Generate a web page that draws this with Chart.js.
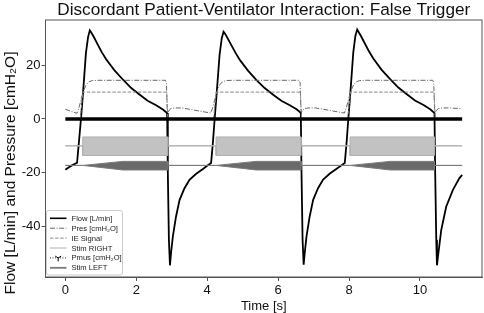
<!DOCTYPE html>
<html>
<head>
<meta charset="utf-8">
<script src="https://cdn.jsdelivr.net/npm/chart.js@4/dist/chart.umd.min.js"></script>
<style>
  html, body { margin: 0; padding: 0; background: #fff; }
  #wrap { width: 484px; height: 313px; position: relative; }
</style>
</head>
<body>
<div id="wrap"><canvas id="vent"></canvas></div>
<script>
const FONT = '"Liberation Sans", Arial, sans-serif';

const xTicks = [0, 2, 4, 6, 8, 10];
const yTicks = [-40, -20, 0, 20];

// Flow [L/min]
const flowT = [0.00, 0.10, 0.20, 0.33, 0.38, 0.44, 0.50, 0.58, 0.64, 0.69, 0.73, 0.80, 0.91, 1.03, 1.15, 1.38, 1.62, 1.85, 2.09, 2.32, 2.56, 2.75, 2.87,
  2.89, 2.92, 2.95, 2.98, 3.03, 3.12, 3.22, 3.36, 3.50, 3.69, 3.87, 4.01, 4.11, 4.16, 4.21,
  4.27, 4.35, 4.41, 4.46, 4.50, 4.57, 4.68, 4.80, 4.92, 5.15, 5.39, 5.62, 5.86, 6.09, 6.33, 6.52, 6.64,
  6.66, 6.69, 6.72, 6.75, 6.80, 6.89, 6.99, 7.13, 7.27, 7.46, 7.64, 7.78, 7.88, 7.93, 7.98,
  8.04, 8.12, 8.18, 8.23, 8.27, 8.34, 8.45, 8.57, 8.69, 8.92, 9.16, 9.39, 9.63, 9.86, 10.10, 10.29, 10.41,
  10.43, 10.46, 10.48, 10.52, 10.60, 10.74, 10.93, 11.11, 11.19];
const flowV = [-18.9, -18.0, -17.2, -16.3, -9.0, 0.0, 10.0, 24.5, 30.5, 33.0, 32.2, 30.6, 27.8, 24.8, 22.2, 18.2, 14.7, 11.6, 9.1, 6.8, 5.1, 3.5, 2.2,
  -20.0, -45.0, -54.5, -50.0, -43.9, -36.4, -30.2, -25.8, -22.7, -20.4, -18.7, -17.3, -16.4, -9.0, 0.0,
  10.0, 24.0, 30.0, 32.5, 31.8, 30.2, 27.5, 24.6, 22.0, 18.0, 14.5, 11.5, 9.0, 6.8, 5.1, 3.6, 2.3,
  -20.0, -45.0, -54.3, -50.0, -43.8, -36.3, -30.0, -25.7, -22.6, -20.3, -18.6, -17.3, -16.4, -9.0, 0.0,
  10.2, 24.8, 31.0, 33.3, 32.4, 30.8, 28.0, 25.0, 22.4, 18.3, 14.8, 11.7, 9.2, 6.9, 5.2, 3.6, 2.2,
  -20.0, -45.0, -54.5, -50.0, -41.4, -32.7, -26.4, -22.1, -20.8];

// Pres [cmH2O]
const presT = [0.00, 0.15, 0.33, 0.38, 0.43, 0.48, 0.53, 0.59, 0.66, 0.76, 0.95, 2.82, 2.85, 2.87, 2.89, 2.93, 2.98, 3.10, 3.29,
  4.10, 4.15, 4.20, 4.25, 4.30, 4.36, 4.43, 4.53, 4.72, 6.59, 6.62, 6.64, 6.66, 6.70, 6.75, 6.87, 7.06,
  7.87, 7.92, 7.97, 8.02, 8.07, 8.13, 8.20, 8.30, 8.49, 10.36, 10.39, 10.41, 10.43, 10.47, 10.52, 10.64, 10.83, 11.19];
const presV = [3.6, 2.9, 2.1, 4.0, 6.5, 9.0, 11.0, 12.8, 13.8, 14.3, 14.4, 14.4, 13.5, 4.0, 2.4, 3.3, 3.9, 4.1, 4.1,
  2.2, 4.0, 6.5, 9.0, 11.0, 12.8, 13.8, 14.3, 14.4, 14.4, 13.5, 4.0, 2.4, 3.3, 3.9, 4.1, 4.1,
  2.2, 4.0, 6.5, 9.0, 11.0, 12.8, 13.8, 14.3, 14.4, 14.4, 13.5, 4.0, 2.4, 3.3, 3.9, 4.1, 4.1, 3.8];

// IE Signal
const ieT = [0.00, 0.42, 0.49, 2.86, 2.89, 4.18, 4.25, 6.63, 6.66, 7.96, 8.04, 10.40, 10.43, 11.19];
const ieV = [0, 0, 10, 10, 0, 0, 10, 10, 0, 0, 10, 10, 0, 0];

// Stim RIGHT (envelope of the stimulation burst)
const stimRT = [0.00, 0.49, 0.49, 2.89, 2.89, 4.25, 4.25, 6.65, 6.65, 8.03, 8.03, 10.41, 10.41, 11.19];
const stimRHigh = [-10, -10, -6.7, -6.7, -10, -10, -6.7, -6.7, -10, -10, -6.7, -6.7, -10, -10];
const stimRLow = [-10, -10, -13.6, -13.6, -10, -10, -13.6, -13.6, -10, -10, -13.6, -13.6, -10, -10];

// Pmus [cmH2O]
const pmusT = [0.00, 11.19];
const pmusV = [0, 0];

// Stim LEFT (ramped burst envelope)
const stimLT = [0.00, 0.49, 1.62, 2.89, 2.89, 4.25, 5.38, 6.65, 6.65, 8.03, 9.16, 10.41, 10.41, 11.19];
const stimLHigh = [-17.3, -17.3, -15.8, -15.8, -17.3, -17.3, -15.8, -15.8, -17.3, -17.3, -15.8, -15.8, -17.3, -17.3];
const stimLLow = [-17.3, -17.3, -19.0, -19.0, -17.3, -17.3, -19.0, -19.0, -17.3, -17.3, -19.0, -19.0, -17.3, -17.3];

const pts = (t, v) => t.map((x, i) => ({ x, y: v[i] }));

const legendItems = [
  { text: 'Flow [L/min]', color: '#000', width: 1.6, dash: [] },
  { text: 'Pres [cmH\u2082O]', color: '#666', width: 1, dash: [5, 1.6, 1, 1.6] },
  { text: 'IE Signal', color: '#888', width: 1, dash: [3.5, 1.6] },
  { text: 'Stim RIGHT', color: '#b0b0b0', width: 1, dash: [] },
  { text: 'Pmus [cmH\u2082O]', color: '#000', width: 0.8, dash: [1, 1.5], marker: true },
  { text: 'Stim LEFT', color: '#7a7a7a', width: 1.8, dash: [] },
];

const decor = {
  id: 'decor',
  afterDraw(chart) {
    const { ctx, chartArea: a } = chart;
    ctx.save();
    // frame
    ctx.strokeStyle = '#555';
    ctx.lineWidth = 1;
    ctx.strokeRect(a.left, a.top, a.right - a.left, a.bottom - a.top);
    // title
    ctx.fillStyle = '#111';
    ctx.font = '17.2px ' + FONT;
    ctx.textAlign = 'center';
    ctx.textBaseline = 'middle';
    ctx.fillText('Discordant Patient-Ventilator Interaction: False Trigger', (a.left + a.right) / 2, 10);
    // y label
    ctx.save();
    ctx.translate(11, 173);
    ctx.rotate(-Math.PI / 2);
    ctx.font = '15.5px ' + FONT;
    ctx.fillText('Flow [L/min] and Pressure [cmH\u2082O]', 0, 0);
    ctx.restore();
    // legend
    const bx = 46.5, by = 210.5, bw = 76, bh = 64.5;
    ctx.fillStyle = 'rgba(255,255,255,0.85)';
    ctx.strokeStyle = '#cccccc';
    ctx.lineWidth = 1;
    ctx.beginPath();
    ctx.roundRect(bx, by, bw, bh, 2);
    ctx.fill();
    ctx.stroke();
    ctx.font = '7.6px ' + FONT;
    ctx.textAlign = 'left';
    legendItems.forEach((it, i) => {
      const y = 218.3 + i * 9.9;
      ctx.strokeStyle = it.color;
      ctx.lineWidth = it.width;
      ctx.setLineDash(it.dash);
      ctx.beginPath();
      ctx.moveTo(50, y);
      ctx.lineTo(66.5, y);
      ctx.stroke();
      ctx.setLineDash([]);
      if (it.marker) {
        const cx = 58.2;
        ctx.lineWidth = 1;
        ctx.beginPath();
        ctx.moveTo(cx, y); ctx.lineTo(cx, y + 3.5);
        ctx.moveTo(cx, y); ctx.lineTo(cx - 3, y - 1.8);
        ctx.moveTo(cx, y); ctx.lineTo(cx + 3, y - 1.8);
        ctx.stroke();
      }
      ctx.fillStyle = '#222';
      ctx.fillText(it.text, 71.5, y + 0.5);
    });
    ctx.restore();
  }
};

function line(label, t, v, color, width, dash, order, extra) {
  return Object.assign({
    label, data: pts(t, v), borderColor: color, borderWidth: width, borderDash: dash,
    pointRadius: 0, tension: 0, fill: false, order,
  }, extra || {});
}

new Chart(document.getElementById('vent'), {
  type: 'line',
  data: {
    datasets: [
      line('Flow [L/min]', flowT, flowV, '#000', 1.8, [], 7),
      line('Pres [cmH2O]', presT, presV, '#666', 1, [5, 1.6, 1, 1.6], 6),
      line('IE Signal', ieT, ieV, '#888', 1, [3.5, 1.6], 5),
      line('Stim RIGHT', stimRT, stimRHigh, '#b0b0b0', 1, [], 4),
      line('Stim RIGHT low', stimRT, stimRLow, '#b0b0b0', 1, [], 4, { fill: '-1', backgroundColor: '#c2c2c2' }),
      line('Pmus [cmH2O]', pmusT, pmusV, '#000', 3.5, [], 2),
      line('Stim LEFT', stimLT, stimLHigh, '#7a7a7a', 1, [], 1),
      line('Stim LEFT low', stimLT, stimLLow, '#7a7a7a', 1, [], 1, { fill: '-1', backgroundColor: '#6a6a6a' }),
    ],
  },
  options: {
    responsive: true,
    maintainAspectRatio: false,
    animation: false,
    events: [],
    layout: { padding: { top: 20, right: 2, left: 0, bottom: 0 } },
    plugins: { legend: { display: false }, tooltip: { enabled: false }, title: { display: false } },
    scales: {
      x: {
        type: 'linear', min: -0.56, max: 11.75,
        afterFit: s => { s.height = 36; },
        afterBuildTicks: s => { s.ticks = xTicks.map(value => ({ value })); },
        grid: { display: true, drawOnChartArea: false, drawTicks: true, tickLength: 4, color: '#555' },
        border: { display: true, color: '#555' },
        ticks: { color: '#111', font: { family: FONT, size: 13 }, padding: 1.5, maxRotation: 0 },
        title: { display: true, text: 'Time [s]', color: '#111', font: { family: FONT, size: 13, lineHeight: 1.0 }, padding: { top: 0, bottom: 0 } },
      },
      y: {
        type: 'linear', min: -58.85, max: 36.85,
        afterFit: s => { s.width = 45.5; },
        afterBuildTicks: s => { s.ticks = yTicks.map(value => ({ value })); },
        grid: { display: true, drawOnChartArea: false, drawTicks: true, tickLength: 4, color: '#555' },
        border: { display: true, color: '#555' },
        ticks: { color: '#111', font: { family: FONT, size: 13 }, padding: 1 },
      },
    },
  },
  plugins: [decor],
});
</script>
</body>
</html>
